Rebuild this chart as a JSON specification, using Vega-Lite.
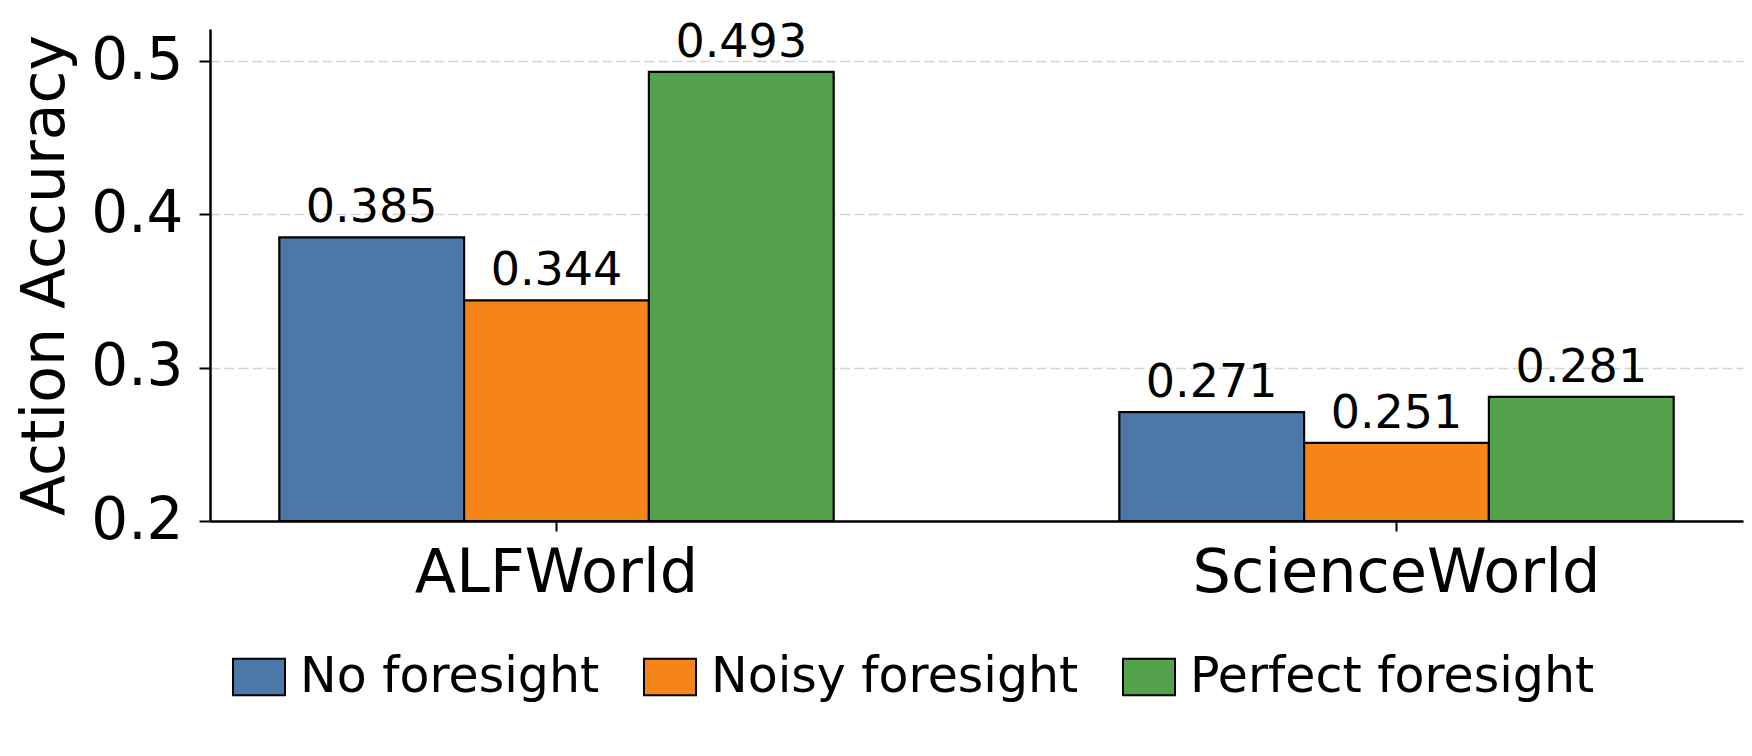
{
  "$schema": "https://vega.github.io/schema/vega-lite/v6.json",
  "autosize": {"type": "none"},
  "padding": {"left": 210, "top": 29, "right": 9, "bottom": 235},
  "width": 1533,
  "height": 492,
  "background": "white",
  "config": {
    "font": "DejaVu Sans",
    "view": {"stroke": null}
  },
  "data": {
    "values": [
      {"env": "ALFWorld", "setting": "No foresight", "acc": 0.385},
      {"env": "ALFWorld", "setting": "Noisy foresight", "acc": 0.344},
      {"env": "ALFWorld", "setting": "Perfect foresight", "acc": 0.493},
      {"env": "ScienceWorld", "setting": "No foresight", "acc": 0.271},
      {"env": "ScienceWorld", "setting": "Noisy foresight", "acc": 0.251},
      {"env": "ScienceWorld", "setting": "Perfect foresight", "acc": 0.281}
    ]
  },
  "encoding": {
    "x": {
      "field": "env",
      "type": "nominal",
      "sort": ["ALFWorld", "ScienceWorld"],
      "scale": {"paddingInner": 0.34, "paddingOuter": 0.0825},
      "axis": {
        "title": null,
        "labelAngle": 0,
        "labelFontSize": 60.5,
        "labelColor": "black",
        "labelBaseline": "top",
        "labelPadding": 12,
        "labelLimit": 1000,
        "bandPosition": 0.5,
        "tickSize": 10,
        "tickWidth": 2,
        "tickColor": "black",
        "domainColor": "black",
        "domainWidth": 2.5,
        "grid": false
      }
    },
    "xOffset": {
      "field": "setting",
      "type": "nominal",
      "sort": ["No foresight", "Noisy foresight", "Perfect foresight"],
      "scale": {"paddingInner": 0, "paddingOuter": 0}
    },
    "y": {
      "field": "acc",
      "type": "quantitative",
      "scale": {"domain": [0.2, 0.521], "nice": false, "zero": false},
      "axis": {
        "values": [0.2, 0.3, 0.4, 0.5],
        "format": ".1f",
        "labelFontSize": 58,
        "labelColor": "black",
        "labelPadding": 16,
        "tickSize": 11,
        "tickWidth": 2,
        "tickColor": "black",
        "domainColor": "black",
        "domainWidth": 2.5,
        "grid": true,
        "gridColor": "#d4d4d4",
        "gridDash": [10, 4],
        "gridWidth": 1.6,
        "title": "Action Accuracy",
        "titleFontSize": 60,
        "titleFontWeight": "normal",
        "titleColor": "black",
        "titleAngle": 270,
        "titleBaseline": "bottom",
        "titleAlign": "center",
        "titleX": -134,
        "titleY": 246
      }
    }
  },
  "layer": [
    {
      "mark": {"type": "bar", "stroke": "black", "strokeWidth": 2.2, "opacity": 1},
      "encoding": {
        "y2": {"datum": 0.2},
        "color": {
          "field": "setting",
          "type": "nominal",
          "scale": {
            "domain": ["No foresight", "Noisy foresight", "Perfect foresight"],
            "range": ["#4c78a8", "#f58518", "#54a24b"]
          },
          "legend": {
            "orient": "none",
            "direction": "horizontal",
            "legendX": 22,
            "legendY": 621,
            "title": null,
            "padding": 0,
            "symbolType": "M-1,-0.706H1V0.706H-1Z",
            "symbolSize": 2704,
            "symbolStrokeColor": "black",
            "symbolStrokeWidth": 2,
            "symbolOpacity": 1,
            "labelFontSize": 49,
            "labelColor": "black",
            "labelOffset": 14,
            "labelLimit": 1000,
            "columnPadding": 40
          }
        }
      }
    },
    {
      "mark": {"type": "text", "baseline": "alphabetic", "dy": -15, "fontSize": 46, "color": "black"},
      "encoding": {
        "text": {"field": "acc", "type": "quantitative", "format": ".3f"}
      }
    }
  ]
}
